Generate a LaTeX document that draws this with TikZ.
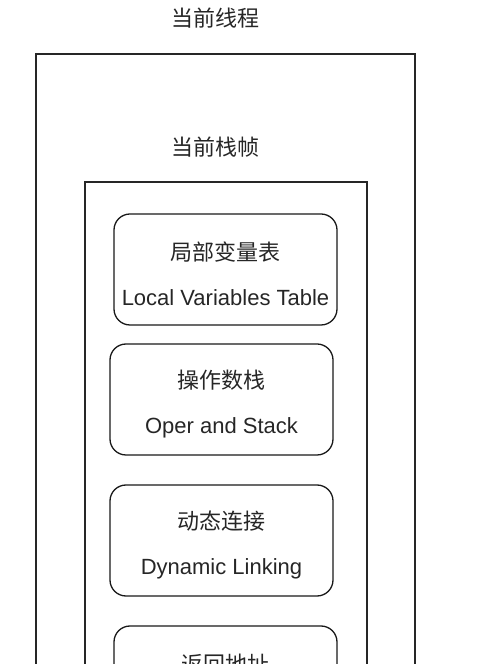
\documentclass[tikz,border=0pt]{standalone}
\usepackage{fontspec}
\setmainfont{Liberation Sans}
\newfontfamily\cjk{Noto Sans CJK SC}

\newcommand{\partlabel}[2]{{\cjk\rule{0pt}{28pt}#1}\\#2}

\tikzset{
    framebox/.style={draw=black!85, line width=1.3pt},
    partbox/.style={draw=black!90, line width=1.3pt, rounded corners=16pt,
        minimum width=223pt, minimum height=111pt, inner sep=0pt,
        align=center, text=black!85, font=\fontsize{22}{45}\selectfont},
    title/.style={text=black!85, font=\cjk\fontsize{22}{26}\selectfont},
}

\begin{document}
\begin{tikzpicture}[x=1pt, y=1pt]
            \useasboundingbox (0,0) rectangle (500,664);
            \clip (0,0) rectangle (500,664);

            %% thread
            \node[title] (thread) at (215,646) {当前线程};
            \draw[framebox] (36,610) rectangle (415,-120);

            %% frame
            \node[title] (frame) at (215,517) {当前栈帧};
            \draw[framebox] (85,482) rectangle (367,-120);

            % local variables
            \node[partbox] (locals) at (225.5,394.5)
                {\partlabel{局部变量表}{Local Variables Table}};

            % operand stack
            \node[partbox] (operands) at (221.5,264.5)
                {\partlabel{操作数栈}{Oper and Stack}};

            % dynamic linking
            \node[partbox] (linking) at (221.5,123.5)
                {\partlabel{动态连接}{Dynamic Linking}};

            % return address
            \node[partbox] (return) at (225.5,-17.5)
                {\partlabel{返回地址}{Return Address}};

        \end{tikzpicture}
\end{document}
